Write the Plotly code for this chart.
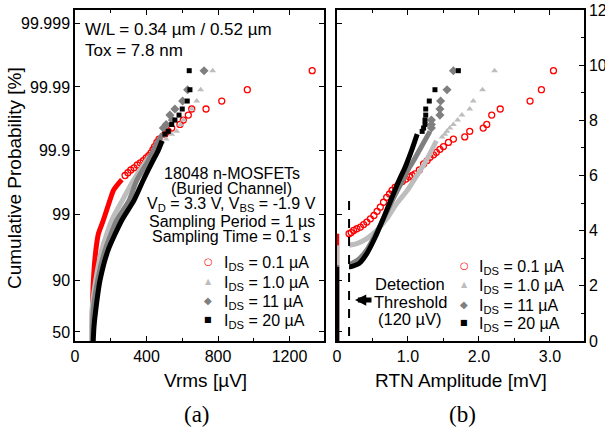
import plotly.graph_objects as go

# ---------------- data (y = -ln(1-F)) ----------------
SERIES = ["0.1 µA", "1.0 µA", "11 µA", "20 µA"]
COLORS = ["#ff0000", "#bdbdbd", "#7f7f7f", "#000000"]

Y_TICK_POS = [0.33, 2.2, 4.6, 6.9, 9.21, 11.5]
Y_TICK_TEXT = ["50", "90", "99", "99.9", "99.99", "99.999"]
X1_TICKS = [0, 400, 800, 1200]
X1_MINOR = [200, 600, 1000]
X2_TICKS = [0, 1, 2, 3]
X2_TICK_TEXT = ["0", "1.0", "2.0", "3.0"]
X2_MINOR = [0.5, 1.5, 2.5]

# (a) Vrms [µV]
A_RED_BODY_X = [95, 97, 103, 115, 131, 158, 195, 215, 242, 262]
A_RED_BODY_Y = [0, 1.0, 2.2, 3.2, 3.89, 4.37, 5.1, 5.46, 5.7, 5.85]
A_RED_TAIL_X = [280, 296, 312, 330, 348, 365, 382, 398, 412, 425, 436, 445, 458, 470, 503,
                522, 541, 587, 606, 634, 653, 733, 821, 964, 1327]
A_RED_TAIL_Y = [6.0, 6.1, 6.2, 6.28, 6.38, 6.46, 6.54, 6.64, 6.72, 6.82, 6.94, 7.05, 7.2, 7.32, 7.5,
                7.6, 7.72, 7.85, 8.01, 8.19, 8.41, 8.41, 8.7, 9.11, 9.8]
A_LG_BODY_X = [93, 95, 116, 149, 205, 265, 326, 401, 494]
A_LG_BODY_Y = [0, 1.12, 2.2, 3.29, 4.37, 5.1, 5.82, 6.54, 7.26]
A_LG_TAIL_X = [510, 541, 569, 590, 606, 653, 681, 703, 770]
A_LG_TAIL_Y = [7.32, 7.5, 7.6, 7.85, 8.01, 8.41, 8.7, 9.11, 9.8]
A_DG_BODY_X = [98, 102, 127, 168, 233, 303, 345, 410, 466, 490]
A_DG_BODY_Y = [0, 1.12, 2.2, 3.29, 4.37, 5.1, 5.82, 6.54, 7.26, 7.5]
A_DG_TAIL_X = [494, 510, 531, 545, 559, 602, 630, 722]
A_DG_TAIL_Y = [7.72, 7.85, 8.19, 8.01, 8.41, 8.7, 9.11, 9.8]
A_BK_BODY_X = [102, 106, 116, 140, 185, 261, 330, 381, 436, 465, 487]
A_BK_BODY_Y = [0, 0.5, 1.12, 2.2, 3.29, 4.37, 5.1, 5.82, 6.54, 6.9, 7.26]
A_BK_TAIL_X = [503, 522, 541, 559, 582, 600, 628, 643, 639]
A_BK_TAIL_Y = [7.5, 7.6, 7.85, 8.01, 8.19, 8.41, 8.7, 9.11, 9.8]

# (b) RTN amplitude [mV]; first two points = undetected devices at ~0
B_RED_X = [0.01, 0.01, None, 0.17, 0.2, 0.235, 0.28, 0.33, 0.375, 0.42, 0.47, 0.52, 0.565, 0.61,
           0.655, 0.70, 0.74, 0.775, 0.82, 0.87, 0.92, 0.97, 1.02, 1.06, 1.10, 1.16, 1.22, 1.27,
           1.31, 1.36, 1.40, 1.45, 1.50, 1.57, 1.64, 1.80, 1.87, 2.06, 2.11, 2.18, 2.30, 2.72,
           2.88, 3.05]
B_RED_Y = [0, 3.89, None, 3.89, 3.93, 4.01, 4.07, 4.13, 4.22, 4.31, 4.43, 4.55, 4.7, 4.85,
           5.03, 5.21, 5.33, 5.46, 5.58, 5.68, 5.78, 5.87, 5.95, 6.0, 6.06, 6.2, 6.42, 6.54,
           6.66, 6.75, 6.84, 6.95, 7.05, 7.2, 7.32, 7.4, 7.6, 7.72, 7.85, 8.19, 8.41, 8.7,
           9.11, 9.8]
B_LG_BODY_X = [0.01, 0.01, None, 0.17, 0.28, 0.42, 0.56, 0.70, 0.84, 0.99, 1.12, 1.23, 1.32, 1.40]
B_LG_BODY_Y = [0, 3.47, None, 3.47, 3.53, 3.71, 4.01, 4.43, 4.98, 5.46, 5.98, 6.42, 6.85, 7.26]
B_LG_TAIL_X = [1.48, 1.52, 1.55, 1.59, 1.64, 1.70, 1.76, 1.87, 1.92, 2.05, 2.22]
B_LG_TAIL_Y = [7.4, 7.5, 7.6, 7.72, 7.85, 8.01, 8.19, 8.41, 8.7, 9.11, 9.8]
B_DG_BODY_X = [0.01, 0.01, None, 0.17, 0.3, 0.42, 0.54, 0.66, 0.78, 0.9, 1.0, 1.08, 1.2, 1.31]
B_DG_BODY_Y = [0, 2.76, None, 2.76, 2.95, 3.3, 3.85, 4.45, 5.1, 5.7, 6.2, 6.54, 7.1, 7.6]
B_DG_TAIL_X = [1.33, 1.33, 1.33, 1.45, 1.45, 1.46, 1.55, 1.64]
B_DG_TAIL_Y = [7.72, 7.85, 8.01, 8.19, 8.41, 8.7, 9.11, 9.8]
B_BK_BODY_X = [0.01, 0.01, None, 0.17, 0.19, 0.31, 0.42, 0.54, 0.66, 0.775, 0.87, 0.96, 1.05, 1.13]
B_BK_BODY_Y = [0, 2.69, None, 2.69, 2.69, 2.81, 3.17, 3.77, 4.49, 5.21, 5.8, 6.3, 6.9, 7.5]
B_BK_TAIL_X = [1.2, 1.22, 1.24, 1.24, 1.25, 1.25, 1.30, 1.38, 1.71]
B_BK_TAIL_Y = [7.6, 7.72, 7.85, 8.01, 8.19, 8.41, 8.7, 9.11, 9.8]

THRESH_X = 0.17
THRESH_Y = [0.18, 5.1]

# ---------------- figure ----------------
W, H = 605, 429
FONT = "Liberation Sans, Arial, sans-serif"


def px(x):
    return x / W


def py(y):
    return 1 - y / H


MARKERS = [dict(symbol="circle-open", size=6, color=COLORS[0], line=dict(width=1.3, color=COLORS[0])),
           dict(symbol="triangle-up", size=6, color=COLORS[1]),
           dict(symbol="diamond", size=7, color=COLORS[2]),
           dict(symbol="square", size=5, color=COLORS[3])]

fig = go.Figure()

a_body = [(A_RED_BODY_X, A_RED_BODY_Y), (A_LG_BODY_X, A_LG_BODY_Y),
          (A_DG_BODY_X, A_DG_BODY_Y), (A_BK_BODY_X, A_BK_BODY_Y)]
a_tail = [(A_RED_TAIL_X, A_RED_TAIL_Y), (A_LG_TAIL_X, A_LG_TAIL_Y),
          (A_DG_TAIL_X, A_DG_TAIL_Y), (A_BK_TAIL_X, A_BK_TAIL_Y)]
for i in range(4):
    fig.add_trace(go.Scatter(x=a_body[i][0], y=a_body[i][1], mode="lines",
                             line=dict(color=COLORS[i], width=5, shape="spline", smoothing=0.6),
                             xaxis="x", yaxis="y", showlegend=False, hoverinfo="skip"))
    fig.add_trace(go.Scatter(x=a_tail[i][0], y=a_tail[i][1], mode="markers", marker=MARKERS[i],
                             xaxis="x", yaxis="y", showlegend=False, hoverinfo="skip"))

# panel (b)
fig.add_trace(go.Scatter(x=B_RED_X[:2], y=B_RED_Y[:2], mode="lines",
                         line=dict(color=COLORS[0], width=3), xaxis="x2", yaxis="y2",
                         showlegend=False, hoverinfo="skip"))
fig.add_trace(go.Scatter(x=B_RED_X[3:], y=B_RED_Y[3:], mode="markers", marker=MARKERS[0],
                         xaxis="x2", yaxis="y2", showlegend=False, hoverinfo="skip"))
b_body = [(B_LG_BODY_X, B_LG_BODY_Y), (B_DG_BODY_X, B_DG_BODY_Y), (B_BK_BODY_X, B_BK_BODY_Y)]
b_tail = [(B_LG_TAIL_X, B_LG_TAIL_Y), (B_DG_TAIL_X, B_DG_TAIL_Y), (B_BK_TAIL_X, B_BK_TAIL_Y)]
for j in range(3):
    i = j + 1
    bx, by = b_body[j]
    fig.add_trace(go.Scatter(x=bx[:2], y=by[:2], mode="lines", line=dict(color=COLORS[i], width=3),
                             xaxis="x2", yaxis="y2", showlegend=False, hoverinfo="skip"))
    fig.add_trace(go.Scatter(x=bx[3:], y=by[3:], mode="lines",
                             line=dict(color=COLORS[i], width=5, shape="spline", smoothing=0.6),
                             xaxis="x2", yaxis="y2", showlegend=False, hoverinfo="skip"))
    fig.add_trace(go.Scatter(x=b_tail[j][0], y=b_tail[j][1], mode="markers", marker=MARKERS[i],
                             xaxis="x2", yaxis="y2", showlegend=False, hoverinfo="skip"))

fig.add_trace(go.Scatter(x=[None], y=[None], xaxis="x2", yaxis="y3", showlegend=False,
                         hoverinfo="skip"))

fig.add_shape(type="line", xref="x2", yref="y2", x0=THRESH_X, x1=THRESH_X,
              y0=THRESH_Y[0], y1=THRESH_Y[1], line=dict(color="black", width=2, dash="dash"))

ax_common = dict(showgrid=False, zeroline=False, showline=True, linecolor="black", linewidth=1.5,
                 ticks="inside", tickcolor="black", tickwidth=1.2, ticklen=5, automargin=False,
                 tickfont=dict(family=FONT, size=16, color="black"))
YDOM = [py(341), py(10)]

fig.update_layout(
    width=W, height=H, margin=dict(l=0, r=0, t=0, b=0, autoexpand=False),
    paper_bgcolor="white", plot_bgcolor="white", showlegend=False,
    xaxis=dict(domain=[px(75), px(324)], range=[0, 1393], anchor="y", tickmode="array",
               tickvals=X1_TICKS, mirror="ticks",
               minor=dict(tickmode="array", tickvals=X1_MINOR, ticks="inside", ticklen=3,
                          tickcolor="black"), **ax_common),
    yaxis=dict(domain=YDOM, range=[0, 12], anchor="x", tickmode="array", tickvals=Y_TICK_POS,
               ticktext=Y_TICK_TEXT, mirror="ticks", **ax_common),
    xaxis2=dict(domain=[px(337), px(584)], range=[0, 3.48], anchor="y2", tickmode="array",
                tickvals=X2_TICKS, ticktext=X2_TICK_TEXT, mirror="ticks",
                minor=dict(tickmode="array", tickvals=X2_MINOR, ticks="inside", ticklen=3,
                           tickcolor="black"), **ax_common),
    yaxis2=dict(domain=YDOM, range=[0, 12], anchor="x2", tickmode="array", tickvals=Y_TICK_POS,
                showticklabels=False, **ax_common),
    yaxis3=dict(range=[0, 12], overlaying="y2", anchor="x2", side="right", tickmode="linear",
                tick0=0, dtick=2, minor=dict(dtick=1, ticks="inside", ticklen=3, tickcolor="black"),
                **ax_common),
)

ann = []


def txt(x, y, s, size=16, xanchor="center", family=FONT, color="black", angle=0):
    ann.append(dict(x=px(x), y=py(y), xref="paper", yref="paper", text=s, showarrow=False,
                    xanchor=xanchor, yanchor="middle", textangle=angle,
                    font=dict(family=family, size=size, color=color)))


txt(83, 30, "W/L = 0.34 µm / 0.52 µm", size=17, xanchor="left")
txt(83, 50, "Tox = 7.8 nm", size=17, xanchor="left")
block = ["18048 n-MOSFETs", "(Buried Channel)", "V<sub>D</sub> = 3.3 V, V<sub>BS</sub> = -1.9 V",
         "Sampling Period = 1 µs", "Sampling Time = 0.1 s"]
for k, (s, yy) in enumerate(zip(block, [173, 188.5, 205, 221, 237])):
    txt(231.5, yy, s)

glyphs = ["○", "▲", "◆", "■"]
gsize = [10, 8, 10, 8]
for k in range(4):
    yl = [263.5, 283, 302, 321.5][k]
    yr = [267, 286.5, 306, 324.5][k]
    txt(208, yl - 2, glyphs[k], size=gsize[k], family="DejaVu Sans", color=COLORS[k])
    txt(222, yl, "I<sub>DS</sub> = " + SERIES[k], xanchor="left")
    txt(464, yr - 2, glyphs[k], size=gsize[k], family="DejaVu Sans", color=COLORS[k])
    txt(477, yr, "I<sub>DS</sub> = " + SERIES[k], xanchor="left")

txt(410, 284, "Detection", size=16.5)
txt(410.5, 301.5, "Threshold", size=16.5)
txt(410, 319, "(120 µV)", size=16.5)

txt(205, 380, "Vrms [µV]", size=19)
txt(461.5, 380, "RTN Amplitude [mV]", size=19)
txt(15, 178, "Cumulative Probability [%]", size=19, angle=-90)
txt(197, 414, "(a)", size=23, family="Liberation Serif, Times New Roman, serif")
txt(462, 414, "(b)", size=23, family="Liberation Serif, Times New Roman, serif")

ann.append(dict(x=px(355), y=py(300), xref="paper", yref="paper", ax=18, ay=0, text="",
                showarrow=True, arrowhead=2, arrowsize=0.45, arrowwidth=5, arrowcolor="black"))

fig.update_layout(annotations=ann)
fig.write_html("out.html", config={"displayModeBar": False},
               post_script="document.body.style.margin='0px';")
